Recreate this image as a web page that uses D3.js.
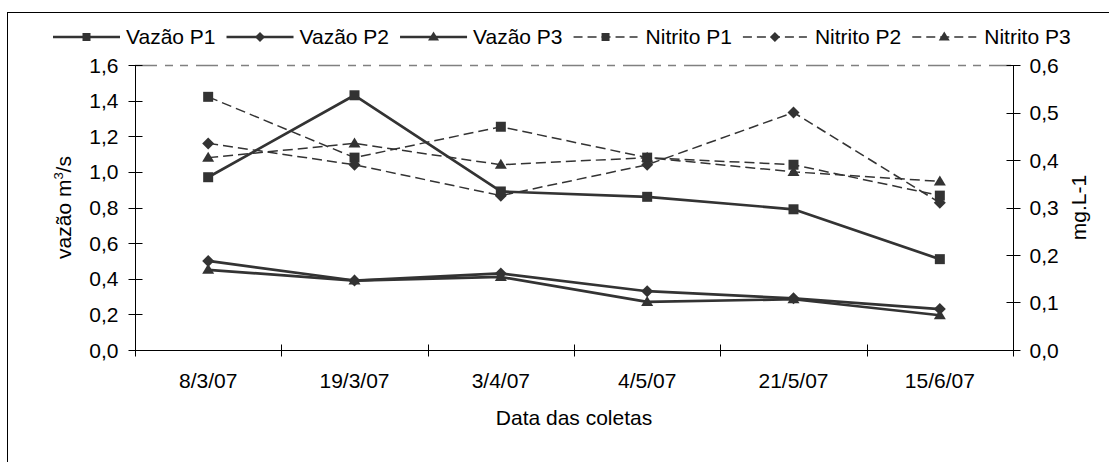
<!DOCTYPE html>
<html>
<head>
<meta charset="utf-8">
<script src="https://cdnjs.cloudflare.com/ajax/libs/d3/7.8.5/d3.min.js"></script>
<style>
    body { margin: 0; background: #fff; }
    text { font-family: Arial, "Liberation Sans", sans-serif; font-size: 21px; fill: #000; }
</style>
</head>
<body>
<svg id="chart" width="1109" height="462"></svg>
<script>
var categories = ["8/3/07", "19/3/07", "3/4/07", "4/5/07", "21/5/07", "15/6/07"];
var vazaoP1 = [0.97, 1.43, 0.89, 0.86, 0.79, 0.51];
var vazaoP2 = [0.50, 0.39, 0.43, 0.33, 0.29, 0.23];
var vazaoP3 = [0.45, 0.39, 0.41, 0.27, 0.285, 0.195];
var nitritoP1 = [0.533, 0.405, 0.47, 0.405, 0.39, 0.325];
var nitritoP2 = [0.435, 0.39, 0.325, 0.39, 0.50, 0.31];
var nitritoP3 = [0.405, 0.435, 0.39, 0.405, 0.375, 0.355];
var leftTicks = [0, 0.2, 0.4, 0.6, 0.8, 1.0, 1.2, 1.4, 1.6];
var rightTicks = [0, 0.1, 0.2, 0.3, 0.4, 0.5, 0.6];

var series = [
    { name: "Vazão P1", values: vazaoP1, axis: "left", marker: "square", dashed: false },
    { name: "Vazão P2", values: vazaoP2, axis: "left", marker: "diamond", dashed: false },
    { name: "Vazão P3", values: vazaoP3, axis: "left", marker: "triangle", dashed: false },
    { name: "Nitrito P1", values: nitritoP1, axis: "right", marker: "square", dashed: true },
    { name: "Nitrito P2", values: nitritoP2, axis: "right", marker: "diamond", dashed: true },
    { name: "Nitrito P3", values: nitritoP3, axis: "right", marker: "triangle", dashed: true }
];

var lineColor = "#333333";
var plot = { left: 135, right: 1013, top: 65, bottom: 350 };

var svg = d3.select("#chart");

// outer chart frame (goes past right and bottom edge)
svg.append("rect")
    .attr("x", 7.5).attr("y", 12.5)
    .attr("width", 1200).attr("height", 600)
    .attr("fill", "none").attr("stroke", "#000").attr("stroke-width", 1);

var x = d3.scaleBand().domain(categories).range([plot.left, plot.right]);
var yLeft = d3.scaleLinear().domain([0, 1.6]).range([plot.bottom, plot.top]);
var yRight = d3.scaleLinear().domain([0, 0.6]).range([plot.bottom, plot.top]);

var fmt = function(d) { return d3.format(".1f")(d).replace(".", ","); };

// top gridline
svg.append("line")
    .attr("x1", plot.left).attr("x2", plot.right)
    .attr("y1", yLeft(1.6) + 0.5).attr("y2", yLeft(1.6) + 0.5)
    .attr("stroke", "#808080").attr("stroke-width", 1.5)
    .attr("stroke-dasharray", "22,8,8,7,8,8");

// left axis
var gLeft = svg.append("g").attr("transform", "translate(" + (plot.left + 0.5) + ",0)");
gLeft.append("line").attr("y1", plot.top).attr("y2", plot.bottom).attr("stroke", "#000");
gLeft.selectAll(".tick").data(leftTicks).enter().append("line")
    .attr("x1", -7).attr("x2", 7)
    .attr("y1", function(d) { return Math.round(yLeft(d)) + 0.5; })
    .attr("y2", function(d) { return Math.round(yLeft(d)) + 0.5; })
    .attr("stroke", "#000");
gLeft.selectAll(".lbl").data(leftTicks).enter().append("text")
    .attr("x", -17)
    .attr("y", function(d) { return yLeft(d); })
    .attr("dy", "0.36em")
    .attr("text-anchor", "end")
    .text(fmt);

// right axis
var gRight = svg.append("g").attr("transform", "translate(" + (plot.right + 0.5) + ",0)");
gRight.append("line").attr("y1", plot.top).attr("y2", plot.bottom).attr("stroke", "#000");
gRight.selectAll(".tick").data(rightTicks).enter().append("line")
    .attr("x1", -7).attr("x2", 7)
    .attr("y1", function(d) { return Math.round(yRight(d)) + 0.5; })
    .attr("y2", function(d) { return Math.round(yRight(d)) + 0.5; })
    .attr("stroke", "#000");
gRight.selectAll(".lbl").data(rightTicks).enter().append("text")
    .attr("x", 16)
    .attr("y", function(d) { return yRight(d); })
    .attr("dy", "0.36em")
    .text(fmt);

// bottom axis, ticks at category edges
var edges = categories.map(function(c) { return x(c); }).concat([plot.right]);
var gBottom = svg.append("g").attr("transform", "translate(0," + (plot.bottom + 0.5) + ")");
gBottom.append("line").attr("x1", plot.left).attr("x2", plot.right).attr("stroke", "#000");
gBottom.selectAll(".tick").data(edges).enter().append("line")
    .attr("x1", function(d) { return Math.round(d) + 0.5; })
    .attr("x2", function(d) { return Math.round(d) + 0.5; })
    .attr("y1", -6).attr("y2", 6)
    .attr("stroke", "#000");
gBottom.selectAll(".lbl").data(categories).enter().append("text")
    .attr("x", function(d) { return x(d) + x.bandwidth() / 2; })
    .attr("y", 37)
    .attr("text-anchor", "middle")
    .text(function(d) { return d; });

// axis titles
svg.append("text")
    .attr("text-anchor", "middle")
    .attr("x", (plot.left + plot.right) / 2)
    .attr("y", 425)
    .text("Data das coletas");

var yTitle = svg.append("text")
    .attr("text-anchor", "middle")
    .attr("transform", "translate(71," + ((plot.top + plot.bottom) / 2) + ") rotate(-90)");
yTitle.append("tspan").text("vazão m");
yTitle.append("tspan").attr("dy", -8).style("font-size", "13px").text("3");
yTitle.append("tspan").attr("dy", 8).text("/s");

svg.append("text")
    .attr("text-anchor", "middle")
    .attr("transform", "translate(1086," + ((plot.top + plot.bottom) / 2) + ") rotate(-90)")
    .text("mg.L-1");

// marker shapes
function markerPath(type, big) {
    if (type == "square") {
        var s = big ? 10 : 8;
        return d3.symbol().type(d3.symbolSquare).size(s * s)();
    }
    if (type == "diamond") {
        var h = big ? 6 : 5;
        return "M0," + (-h) + "L" + h + ",0L0," + h + "L" + (-h) + ",0Z";
    }
    var w = big ? 6 : 5.5, t = big ? 10 : 9;
    return "M0," + (-t * 0.6) + "L" + w + "," + (t * 0.4) + "L" + (-w) + "," + (t * 0.4) + "Z";
}

// series lines - dashed first so solid lines sit on top
var drawOrder = series.slice(3).concat(series.slice(0, 3));
drawOrder.forEach(function(s) {
    var yScale = s.axis == "left" ? yLeft : yRight;
    var line = d3.line()
        .x(function(d, i) { return x(categories[i]) + x.bandwidth() / 2; })
        .y(function(d) { return yScale(d); });

    var g = svg.append("g").attr("class", "series");
    g.append("path")
        .datum(s.values)
        .attr("d", line)
        .attr("fill", "none")
        .attr("stroke", lineColor)
        .attr("stroke-width", s.dashed ? 1.5 : 2.7)
        .attr("stroke-dasharray", s.dashed ? "10,5" : null)
        .attr("stroke-linejoin", "round");

    g.selectAll(".pt").data(s.values).enter().append("path")
        .attr("transform", function(d, i) {
            return "translate(" + (x(categories[i]) + x.bandwidth() / 2) + "," + yScale(d) + ")";
        })
        .attr("d", markerPath(s.marker, true))
        .attr("fill", lineColor);
});

// legend - items laid out one after another
var legend = svg.append("g").attr("class", "legend");
var lx = 53, ly = 37;
series.forEach(function(s) {
    var lineW = s.dashed ? 64 : 67;
    legend.append("line")
        .attr("x1", lx).attr("x2", lx + lineW)
        .attr("y1", ly).attr("y2", ly)
        .attr("stroke", lineColor)
        .attr("stroke-width", s.dashed ? 1.5 : 2.7)
        .attr("stroke-dasharray", s.dashed ? "9,5" : null);
    legend.append("path")
        .attr("transform", "translate(" + (lx + lineW / 2) + "," + ly + ")")
        .attr("d", markerPath(s.marker, false))
        .attr("fill", lineColor);
    var t = legend.append("text")
        .attr("x", lx + lineW + (s.dashed ? 8 : 6))
        .attr("y", ly + 7)
        .text(s.name);
    lx = lx + lineW + (s.dashed ? 8 : 6) + t.node().getComputedTextLength() + 11;
});
</script>
</body>
</html>
